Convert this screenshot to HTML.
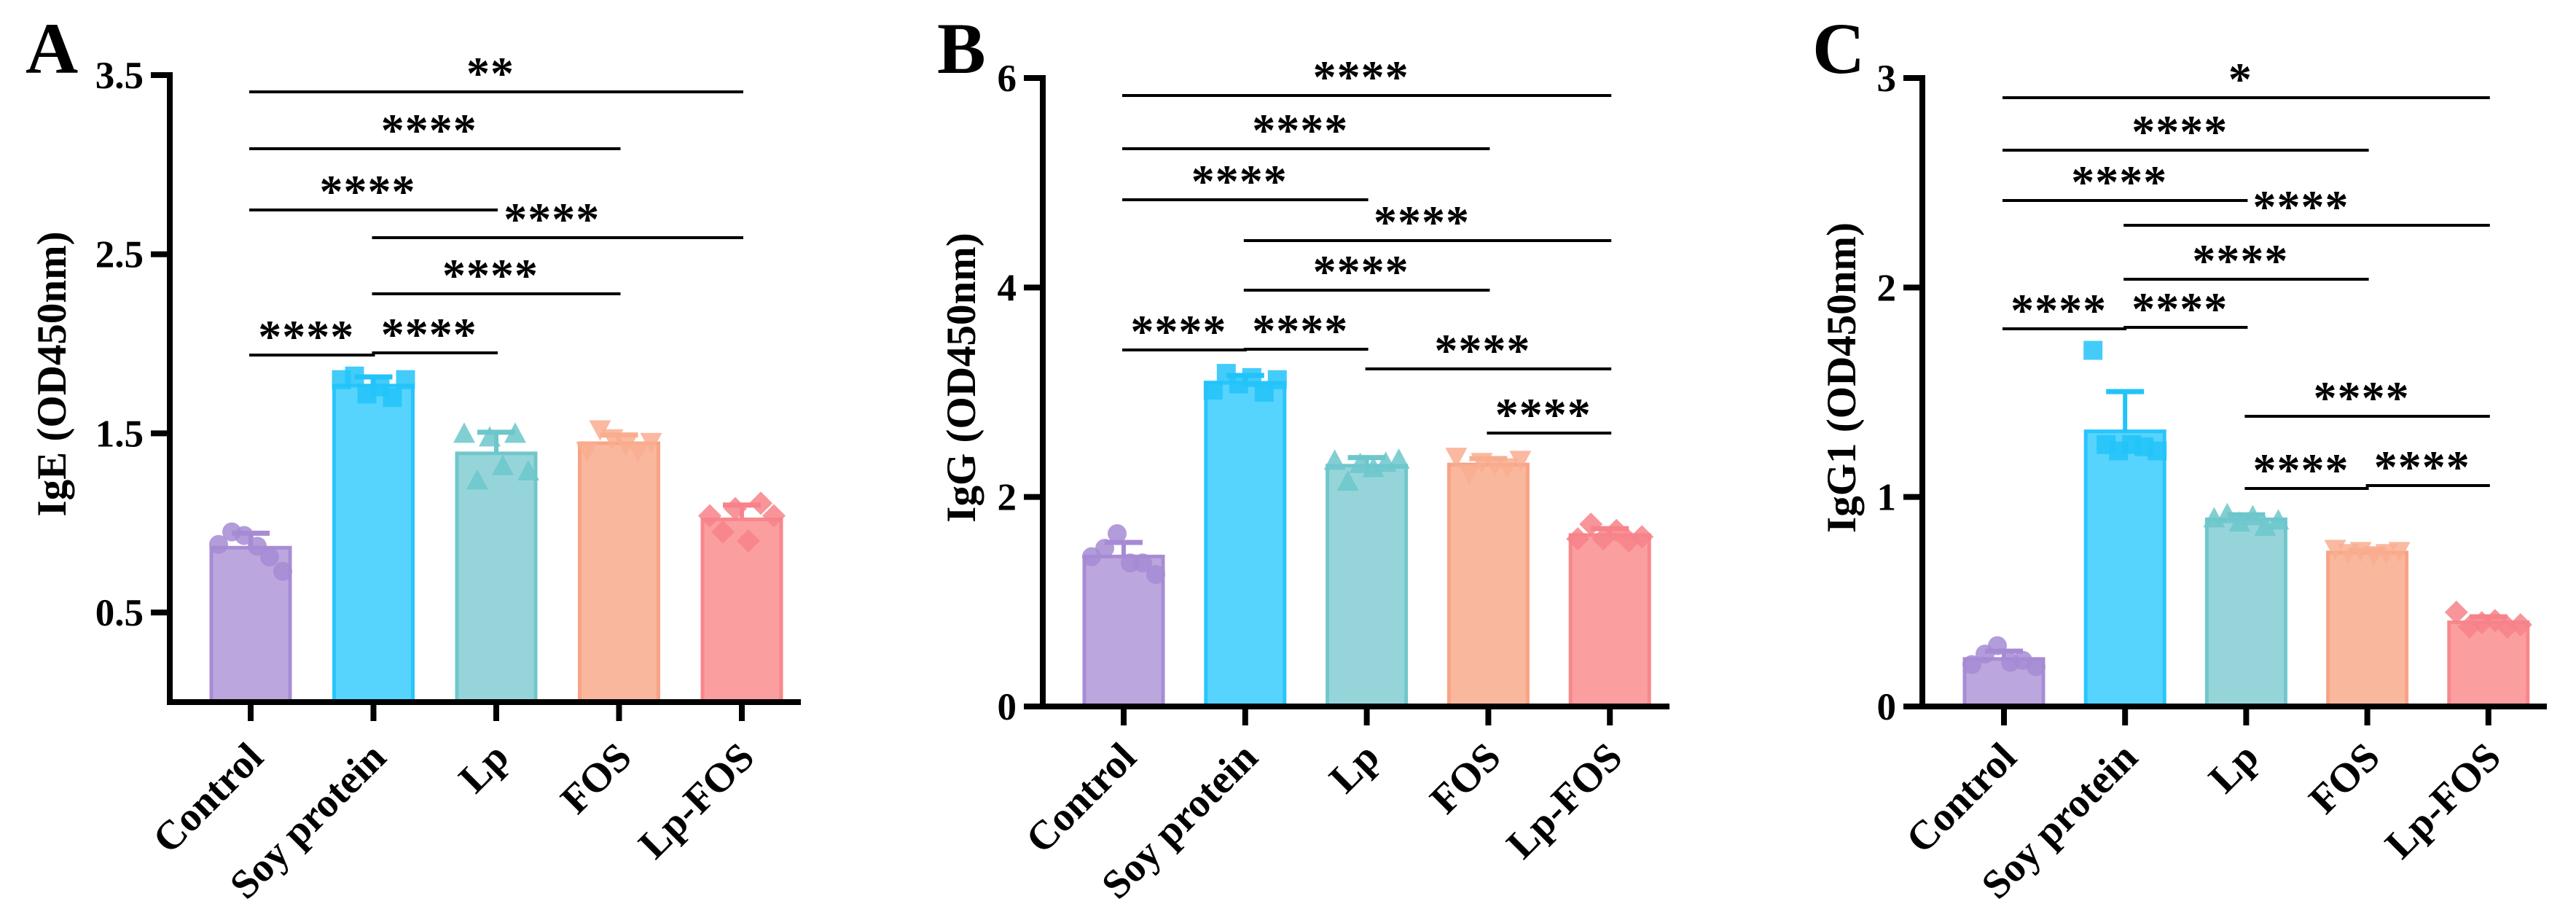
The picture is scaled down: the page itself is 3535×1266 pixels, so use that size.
<!DOCTYPE html>
<html><head><meta charset="utf-8">
<style>
html,body{margin:0;padding:0;background:#fff;}
svg{display:block;}
svg text{font-family:"Liberation Serif","Times New Roman",Times,serif;font-weight:700;fill:#000;}
</style></head>
<body>
<svg id="fig" width="3535" height="1266" viewBox="0 0 3535 1266" xmlns="http://www.w3.org/2000/svg" font-family="Liberation Serif, serif" font-weight="bold"></svg>
<script>
const categories = ["Control","Soy protein","Lp","FOS","Lp-FOS"];
// Panel A (IgE)
const igeControl = [0.88,0.95,0.93,0.87,0.81,0.73];
const igeSoy = [1.80,1.82,1.72,1.76,1.70,1.80];
const igeLp = [1.50,1.24,1.48,1.32,1.50,1.29];
const igeFos = [1.40,1.52,1.47,1.43,1.40,1.45];
const igeLpFos = [1.04,0.95,1.08,0.90,1.11,1.04];
const igeTicks = [0.5,1.5,2.5,3.5];
const igeSig = [["**",0,4],["****",0,3],["****",0,2],["****",1,4],["****",1,3],["****",0,1],["****",1,2]];
// Panel B (IgG)
const iggControl = [1.43,1.51,1.65,1.37,1.37,1.26];
const iggSoy = [3.02,3.18,3.08,3.14,3.00,3.12];
const iggLp = [2.35,2.15,2.32,2.28,2.33,2.36];
const iggFos = [2.38,2.22,2.33,2.30,2.28,2.35];
const iggLpFos = [1.60,1.74,1.60,1.68,1.58,1.62];
const iggTicks = [0,2,4,6];
const iggSig = [["****",0,4],["****",0,3],["****",0,2],["****",1,4],["****",1,3],["****",0,1],["****",1,2],["****",2,4],["****",3,4]];
// Panel C (IgG1)
const igg1Control = [0.20,0.25,0.29,0.21,0.22,0.19];
const igg1Soy = [1.70,1.25,1.22,1.25,1.24,1.22];
const igg1Lp = [0.90,0.92,0.88,0.91,0.86,0.89];
const igg1Fos = [0.75,0.73,0.74,0.72,0.73,0.74];
const igg1LpFos = [0.45,0.38,0.40,0.41,0.38,0.39];
const igg1Ticks = [0,1,2,3];
const igg1Sig = [["*",0,4],["****",0,3],["****",0,2],["****",1,4],["****",1,3],["****",0,1],["****",1,2],["****",2,4],["****",2,3],["****",3,4]];

const fills=["#bba7de","#57d4fd","#95d5da","#f9b89e","#fb9ea0"];
const strokes=["#a78cd5","#28c5fb","#70c7cc","#f8a385","#f8878b"];
const marks=["#a68bd4","#22c3f9","#6cc7cb","#f9ad8f","#f7838a"];
const NS="http://www.w3.org/2000/svg";
const svg=document.getElementById('fig');
function mk(tag,attrs,parent){const e=document.createElementNS(NS,tag);for(const k in attrs)e.setAttribute(k,attrs[k]);(parent||svg).appendChild(e);return e;}
function tx(attrs,parent){const e=mk('text',attrs,parent);e.setAttribute('font-family','Liberation Serif, serif');e.setAttribute('font-weight','bold');return e;}

const panels=[
 {letter:"A",lx:35,title:"IgE (OD450nm)",tx:90,axX:233,axTop:103,axBot:963,axRight:1099,x0:344,step:168.5,ymax:3.5,ticks:igeTicks,tickFmt:v=>v.toFixed(1),
  groups:[igeControl,igeSoy,igeLp,igeFos,igeLpFos],sig:igeSig,sigY:[126,204,288,326,403,487,484]},
 {letter:"B",lx:1286,title:"IgG (OD450nm)",tx:1338,axX:1431,axTop:107,axBot:969,axRight:2291,x0:1542,step:166.8,ymax:6,ticks:iggTicks,tickFmt:v=>String(v),
  groups:[iggControl,iggSoy,iggLp,iggFos,iggLpFos],sig:iggSig,sigY:[131,204,274,330,398,480,479,506,594]},
 {letter:"C",lx:2487,title:"IgG1 (OD450nm)",tx:2546,axX:2638,axTop:107,axBot:969,axRight:3495,x0:2750,step:166.2,ymax:3,ticks:igg1Ticks,tickFmt:v=>String(v),
  groups:[igg1Control,igg1Soy,igg1Lp,igg1Fos,igg1LpFos],sig:igg1Sig,sigY:[134,206,275,309,383,451,449,571,670,666]}
];
const offs=[-44,-26,-9,9,26,44];

function marker(g,shape,x,y,col){
  const r=13;let e;
  if(shape===0){e=mk('circle',{cx:x,cy:y,r:r,fill:col},g);}
  else if(shape===1){e=mk('rect',{x:x-r,y:y-r,width:2*r,height:2*r,fill:col},g);}
  else if(shape===2){e=mk('polygon',{points:`${x},${y-r-2} ${x+r+2},${y+r} ${x-r-2},${y+r}`,fill:col},g);}
  else if(shape===3){e=mk('polygon',{points:`${x-r-2},${y-r} ${x+r+2},${y-r} ${x},${y+r+2}`,fill:col},g);}
  else {e=mk('polygon',{points:`${x},${y-r-3} ${x+r+3},${y} ${x},${y+r+3} ${x-r-3},${y}`,fill:col},g);}
  
  
  e.setAttribute('fill-opacity','0.85');
}

panels.forEach((p,pi)=>{
  const g=mk('g',{});
  
  
  const ys=v=>p.axBot-(v/p.ymax)*(p.axBot-p.axTop);
  const xs=i=>p.x0+i*p.step;
  const L=tx({x:p.lx,y:100,'font-size':100},g);L.textContent=p.letter;
  
  
  const cy=(p.axTop+p.axBot)/2-20;
  const T=tx({x:p.tx,y:cy,'font-size':57,'text-anchor':'middle',transform:`rotate(-90 ${p.tx} ${cy})`},g);
  T.textContent=p.title;
  
  
  p.groups.forEach((vals,i)=>{
    const mean=vals.reduce((a,b)=>a+b,0)/vals.length;
    const sd=Math.sqrt(vals.reduce((a,b)=>a+(b-mean)*(b-mean),0)/(vals.length-1));
    const cx=xs(i),w=108;
    const b=mk('rect',{x:cx-w/2,y:ys(mean),width:w,height:p.axBot-ys(mean),fill:fills[i],stroke:strokes[i],'stroke-width':5},g);
    
    
    const e1=mk('line',{x1:cx,x2:cx,y1:ys(mean),y2:ys(mean+sd),stroke:marks[i],'stroke-width':6},g);
    
    
    const e2=mk('line',{x1:cx-26,x2:cx+26,y1:ys(mean+sd),y2:ys(mean+sd),stroke:marks[i],'stroke-width':7},g);
    
    
    vals.forEach((v,k)=>marker(g,i,cx+offs[k],ys(v),marks[i]));
  });
  const ya=mk('line',{x1:p.axX,x2:p.axX,y1:p.axTop-4,y2:p.axBot+4,stroke:'#000','stroke-width':8},g);
  
  
  const xa=mk('line',{x1:p.axX-(pi===0?0:26),x2:p.axRight,y1:p.axBot,y2:p.axBot,stroke:'#000','stroke-width':8},g);
  
  
  p.ticks.forEach(t=>{
    const y=ys(t);
    const tl=mk('line',{x1:p.axX-26,x2:p.axX,y1:y,y2:y,stroke:'#000','stroke-width':8},g);
    
    
    const tt=tx({x:p.axX-36,y:y+18,'font-size':53,'text-anchor':'end'},g);
    tt.textContent=p.tickFmt(t);
    
    
  });
  categories.forEach((c,i)=>{
    const x=xs(i);
    const tk=mk('line',{x1:x,x2:x,y1:p.axBot,y2:p.axBot+26,stroke:'#000','stroke-width':8},g);
    
    
    const ax=x+20,ay=1042;
    const ct=tx({x:ax,y:ay,'font-size':56,'text-anchor':'end',transform:`rotate(-45 ${ax} ${ay})`},g);
    ct.textContent=c;
    
    
  });
  p.sig.forEach((s,k)=>{
    const y=p.sigY[k];
    const x1=xs(s[1])-2,x2=xs(s[2])+2;
    const ln=mk('line',{x1:x1,x2:x2,y1:y,y2:y,stroke:'#000','stroke-width':4},g);
    
    
    const st=tx({x:(x1+x2)/2-8,y:y-4,'font-size':64,'text-anchor':'middle','letter-spacing':'1'},g);
    st.textContent=s[0];
    
    
  });
});
</script>
</body></html>
